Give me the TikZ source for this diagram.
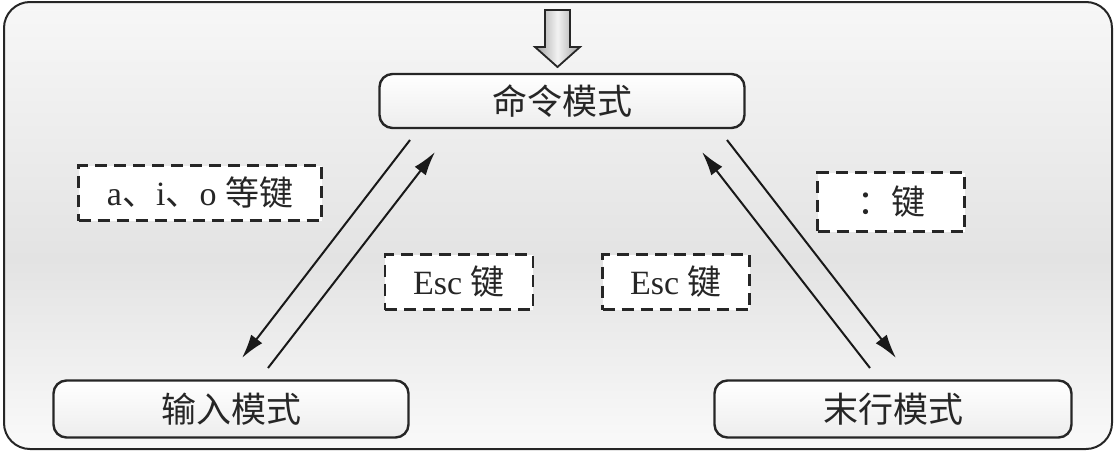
\documentclass[tikz,border=0pt]{standalone}
\usepackage{fontspec}
\setmainfont{Liberation Serif}
\newfontfamily\cjk{Noto Sans CJK SC}
\usetikzlibrary{arrows.meta,calc}
\tikzset{
  modebox/.style={draw=black!85, line width=2.4pt, rounded corners=13pt,
    top color=white, bottom color=gray!14, inner sep=0pt,
    font=\cjk\fontsize{35}{40}\selectfont, text=black!85},
  keybox/.style={draw=black!85, line width=2.8pt, dash pattern=on 12pt off 7pt,
    fill=white, inner sep=0pt, font=\fontsize{34}{38}\selectfont, text=black!85,
    minimum height=55pt},
  modearrow/.style={draw=black!90, line width=2pt, -{Latex[length=24pt,width=14pt]}}
}
\begin{document}
\begin{tikzpicture}[x=1pt,y=-1pt]
\useasboundingbox (0,0) rectangle (1115,453);
% outer panel
\begin{scope}
\clip[rounded corners=26pt] (4,2) rectangle (1112,449);
\path[top color=gray!6, bottom color=gray!22] (0,0) rectangle (1115,260);
\path[top color=gray!22, bottom color=gray!4] (0,259) rectangle (1115,453);
\end{scope}
\draw[black!85, line width=2pt, rounded corners=26pt] (4,2) rectangle (1112,449);
% mode nodes
\node[modebox, minimum width=365pt, minimum height=54pt] (cmd) at (562,101) {命令模式};
\node[modebox, minimum width=355pt, minimum height=57pt] (ins) at (231,409) {输入模式};
\node[modebox, minimum width=357pt, minimum height=57pt] (last) at (893,409) {末行模式};
% top hollow arrow
\draw[black!85, line width=1.8pt, left color=gray!75, right color=gray!75, middle color=gray!10, shading angle=90]
  (545,10) -- (570,10) -- (570,47) -- (580,47) -- (557.5,67) -- (535,47) -- (545,47) -- cycle;
% key boxes
\node[keybox, minimum width=243pt] (k1) at (200,193) {a{\cjk 、}i{\cjk 、}o {\cjk 等键}};
\node[keybox, minimum width=148pt] (k2) at (459,282) {Esc {\cjk 键}};
\node[keybox, minimum width=147pt] (k3) at (676,282) {Esc {\cjk 键}};
\node[keybox, minimum width=147pt, minimum height=59pt] (k4) at (891,202) {{\cjk ：键}};
% arrow endpoints
\coordinate (a1s) at (410,140); \coordinate (a1e) at (242,358);
\coordinate (a2s) at (268,368); \coordinate (a2e) at (435,152);
\coordinate (a3s) at (727,140); \coordinate (a3e) at (896,358);
\coordinate (a4s) at (870,368); \coordinate (a4e) at (702,152);
\draw[modearrow] (a1s) -- (a1e);
\draw[modearrow] (a2s) -- (a2e);
\draw[modearrow] (a3s) -- (a3e);
\draw[modearrow] (a4s) -- (a4e);
\end{tikzpicture}
\end{document}
